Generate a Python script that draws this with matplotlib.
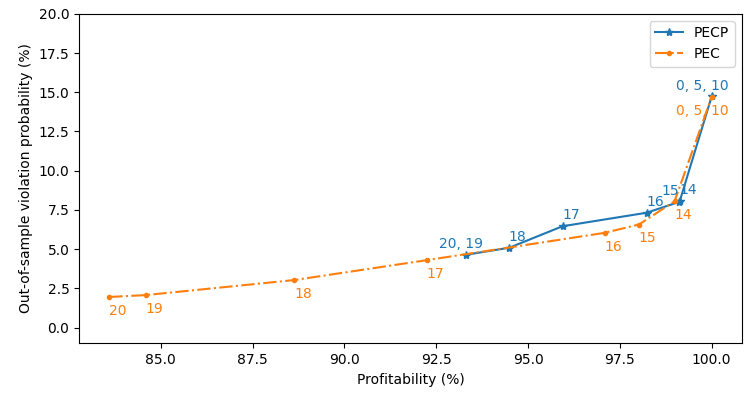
import matplotlib
matplotlib.use("Agg")
import matplotlib.pyplot as plt

# PECP curve (points with identical coordinates share one label)
pecp_labels = ["20, 19", "18", "17", "16", "15", "14", "0, 5, 10"]
pecp_profit = [93.31, 94.49, 95.94, 98.23, 99.10, 99.13, 100.0]
pecp_viol = [4.64, 5.09, 6.46, 7.32, 8.00, 8.05, 14.73]

# PEC curve
pec_labels = ["20", "19", "18", "17", "16", "15", "14", "0, 5, 10"]
pec_profit = [83.60, 84.59, 88.64, 92.25, 97.09, 98.02, 98.99, 100.0]
pec_viol = [1.95, 2.07, 3.03, 4.30, 6.04, 6.57, 8.05, 14.70]

fig, ax = plt.subplots(figsize=(7.47, 3.95), dpi=100)
fig.subplots_adjust(left=0.106, right=0.993, top=0.965, bottom=0.131)

ax.plot(pecp_profit, pecp_viol, "-*", color="C0", label="PECP")
ax.plot(pec_profit, pec_viol, "-.", marker=".", color="C1", label="PEC")

# 标注：PECP 在点上方，PEC 在点下方
for lab, x, y in zip(pecp_labels, pecp_profit, pecp_viol):
    dx = 0 if lab == "15" else 12.5
    ax.annotate(lab, (x, y), xytext=(dx, 5), textcoords="offset points",
                ha="right", va="baseline", color="C0", fontsize=10)

for lab, x, y in zip(pec_labels, pec_profit, pec_viol):
    ax.annotate(lab, (x, y), xytext=(12.5, -5), textcoords="offset points",
                ha="right", va="top", color="C1", fontsize=10)

ax.set_ylim(-1, 20)
ax.set_xlabel("Profitability (%)")
ax.set_ylabel("Out-of-sample violation probability (%)")
ax.legend(loc="upper right")

fig.savefig("out.png", dpi=100)
